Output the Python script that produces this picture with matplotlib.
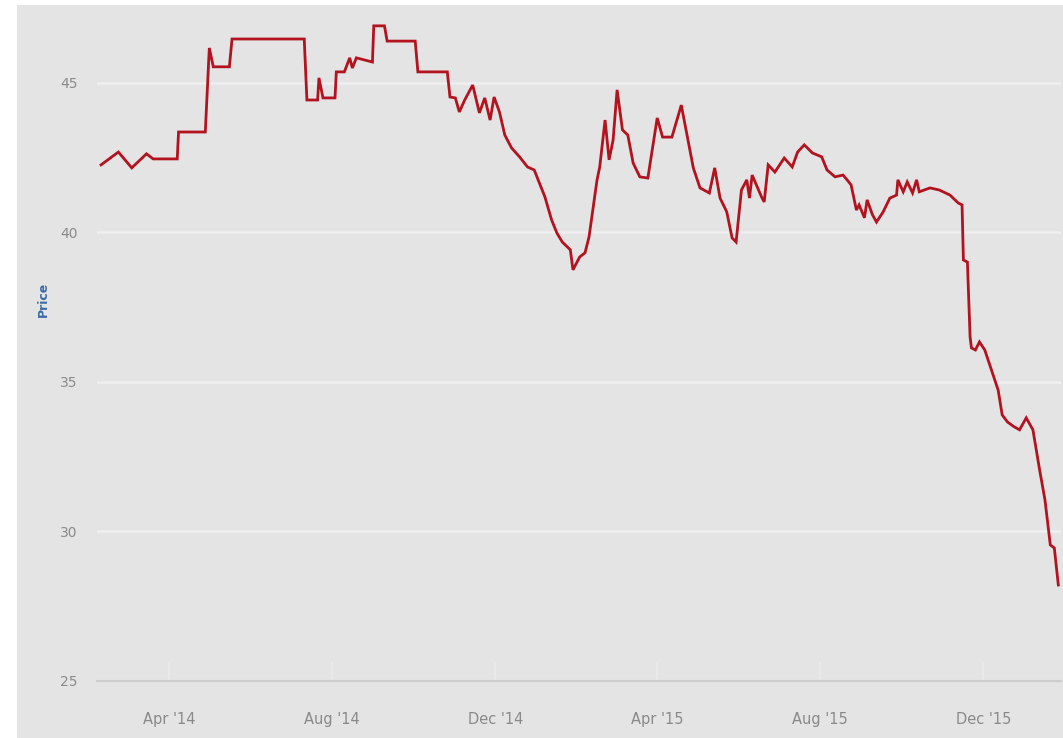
import matplotlib
matplotlib.use("Agg")
import matplotlib.pyplot as plt
import matplotlib.dates as mdates
import numpy as np
import pandas as pd
from matplotlib.patches import Rectangle

# ---- data ----
start_date = "2014-02-08"
day_offsets = [
    1, 14, 24, 35, 40, 58, 59, 79, 82, 85, 97, 99, 153, 155, 163, 164, 167, 176,
    177, 183, 187, 189, 192, 204, 205, 213, 215, 236, 238, 260, 262, 266, 269,
    273, 279, 284, 288, 292, 295, 299, 303, 308, 314, 320, 325, 333, 338, 342,
    346, 352, 354, 359, 363, 366, 372, 374, 378, 381, 384, 387, 391, 395, 399,
    404, 410, 417, 421, 428, 435, 444, 449, 456, 460, 464, 469, 473, 476, 480,
    484, 486, 488, 495, 497, 500, 505, 512, 518, 522, 527, 533, 540, 544, 550,
    556, 559, 562, 566, 568, 572, 574, 578, 581, 586, 591, 596, 597, 601, 604,
    608, 611, 613, 621, 628, 636, 642, 645, 646, 649, 651, 652, 655, 658, 662,
    667, 672, 675, 679, 684, 688, 693, 698, 703, 707, 711, 714, 717,
]
prices = [
    42.26, 42.69, 42.16, 42.63, 42.46, 42.46, 43.36, 43.36, 46.17, 45.54, 45.54,
    46.47, 46.47, 44.43, 44.43, 45.17, 44.50, 44.50, 45.37, 45.37, 45.84, 45.50,
    45.84, 45.70, 46.91, 46.91, 46.40, 46.40, 45.37, 45.37, 44.53, 44.50, 44.03,
    44.43, 44.93, 44.00, 44.50, 43.76, 44.53, 44.03, 43.26, 42.83, 42.53, 42.19,
    42.09, 41.19, 40.42, 39.98, 39.68, 39.42, 38.75, 39.18, 39.32, 39.85, 41.76,
    42.19, 43.76, 42.43, 43.09, 44.77, 43.43, 43.26, 42.32, 41.86, 41.82, 43.83,
    43.19, 43.19, 44.26, 42.16, 41.49, 41.32, 42.16, 41.15, 40.69, 39.82, 39.68,
    41.42, 41.76, 41.15, 41.92, 41.19, 41.02, 42.26, 42.02, 42.49, 42.19, 42.69,
    42.93, 42.66, 42.53, 42.09, 41.86, 41.92, 41.76, 41.59, 40.75, 40.92, 40.49,
    41.09, 40.59, 40.35, 40.69, 41.15, 41.25, 41.76, 41.36, 41.69, 41.32, 41.76,
    41.36, 41.49, 41.42, 41.25, 40.99, 40.92, 39.08, 39.01, 36.51, 36.14, 36.07,
    36.34, 36.07, 35.40, 34.73, 33.90, 33.66, 33.50, 33.40, 33.80, 33.40, 32.06,
    31.06, 29.55, 29.45, 28.21,
]
tick_dates = ["2014-04-01", "2014-08-01", "2014-12-01",
              "2015-04-01", "2015-08-01", "2015-12-01"]
y_ticks = [25, 30, 35, 40, 45]

dates = pd.Timestamp(start_date) + pd.to_timedelta(day_offsets, unit="D")

plt.rcParams['font.family'] = ['Liberation Sans Narrow', 'DejaVu Sans']

BG = '#e4e4e4'
fig = plt.figure(figsize=(10.63, 7.38), dpi=100, facecolor=BG)
# white scan border on left and top
fig.patches.append(Rectangle((0, 0), 17 / 1063, 1, transform=fig.transFigure,
                             facecolor='white', edgecolor='none', zorder=-1))
fig.patches.append(Rectangle((0, 1 - 5 / 738), 1, 5 / 738, transform=fig.transFigure,
                             facecolor='white', edgecolor='none', zorder=-1))

ax = fig.add_axes([97 / 1063, 1 - 681 / 738, 964 / 1063, 671 / 738])
ax.set_facecolor(BG)

ax.plot(dates, prices, color='#b3121f', lw=2.0, solid_joinstyle='miter')

ax.set_ylim(25, 47.44)
ax.set_xlim(pd.Timestamp(start_date) - pd.Timedelta(days=2),
            pd.Timestamp(start_date) + pd.Timedelta(days=719))

ax.set_yticks(y_ticks)
ax.set_xticks(pd.to_datetime(tick_dates))
ax.xaxis.set_major_formatter(mdates.DateFormatter("%b '%y"))

ax.grid(axis='y', color='#efefef', lw=1.8)
ax.set_axisbelow(True)
for s in ['top', 'right', 'left']:
    ax.spines[s].set_visible(False)
ax.spines['bottom'].set_color('#cdcdcd')
ax.spines['bottom'].set_linewidth(1.6)

ax.tick_params(axis='y', length=0, pad=14, labelsize=10, labelcolor='#8a8a8a')
ax.tick_params(axis='x', direction='in', length=14, width=1.2, color='#ebebeb',
               pad=22, labelsize=10.5, labelcolor='#8a8a8a')

ax.set_ylabel('Price', color='#3d6aa8', fontsize=9, fontweight='bold')
ax.yaxis.set_label_coords(-0.049, 0.568)

fig.savefig('out.png', dpi=100, facecolor=BG)
